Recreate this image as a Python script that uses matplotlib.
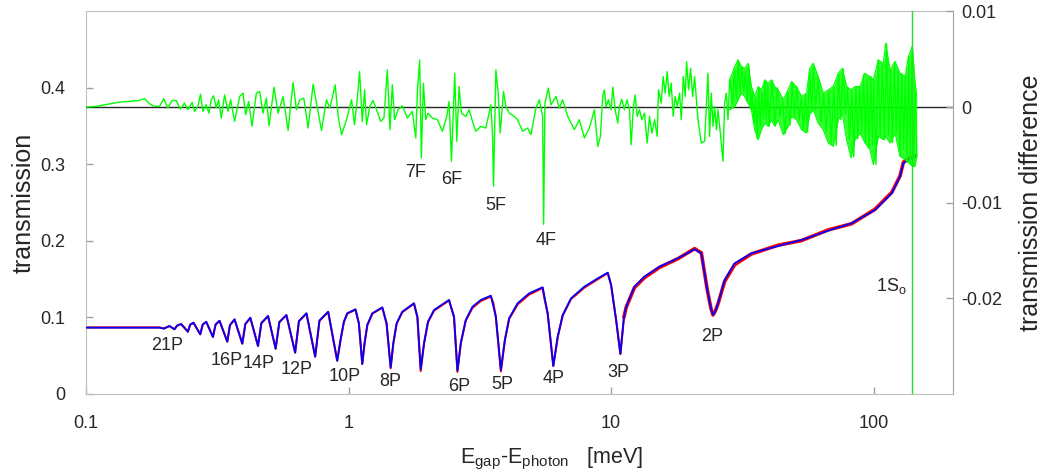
import matplotlib
matplotlib.use('Agg')
import matplotlib.pyplot as plt
from matplotlib.ticker import NullLocator

plt.rcParams['font.family'] = ['Liberation Sans', 'DejaVu Sans']
plt.rcParams['mathtext.default'] = 'regular'

# ---------------- data ----------------
# measured transmission (blue) vs. E_gap - E_photon [meV]
blue_x = [0.100, 0.1905, 0.1980, 0.2079, 0.2173, 0.2225, 0.2305, 0.2444, 0.2495, 0.2568,
          0.2724, 0.2784, 0.2871, 0.3045, 0.3116, 0.3227, 0.3453, 0.3536, 0.3681, 0.3939,
          0.4045, 0.4227, 0.4522, 0.4656, 0.4938, 0.5277, 0.5452, 0.5800, 0.6261, 0.6473,
          0.6915, 0.7463, 0.7750, 0.8366, 0.9055, 0.932, 0.960, 0.989, 1.063, 1.095,
          1.128, 1.151, 1.179, 1.232, 1.345, 1.396, 1.447, 1.481, 1.525, 1.603,
          1.775, 1.829, 1.883, 1.939, 2.008, 2.117, 2.414, 2.522, 2.599, 2.676,
          2.796, 2.965, 3.190, 3.483, 3.640, 3.804, 3.939, 4.091, 4.405, 4.877,
          5.487, 5.734, 6.024, 6.262, 6.542, 7.036, 7.91, 8.90, 9.71, 10.0,
          10.45, 10.85, 11.2, 11.41, 12.27, 13.40, 15.29, 17.97, 20.80, 22.06,
          23.25, 24.0, 24.44, 24.95, 25.55, 27.06, 29.56, 34.22, 43.28, 53.11,
          67.15, 82.41, 101.2, 117.2, 126.0, 129.8, 135.6, 143.8]
blue_y = [0.0867, 0.0867, 0.0854, 0.0889, 0.0846, 0.0895, 0.0915, 0.0814, 0.0908, 0.0932,
          0.0780, 0.0908, 0.0945, 0.0745, 0.0908, 0.0958, 0.0684, 0.0902, 0.0976, 0.0658,
          0.0915, 0.0997, 0.0627, 0.0928, 0.1020, 0.0592, 0.0941, 0.1033, 0.0540, 0.0954,
          0.1055, 0.0488, 0.0961, 0.1076, 0.0435, 0.0706, 0.0945, 0.1055, 0.1107, 0.0924,
          0.0392, 0.0663, 0.0902, 0.1055, 0.1133, 0.0924, 0.0349, 0.0663, 0.0924, 0.1076,
          0.1186, 0.1010, 0.0323, 0.0663, 0.0945, 0.1098, 0.1229, 0.1010, 0.0305, 0.0663,
          0.0967, 0.1141, 0.1229, 0.1285, 0.1010, 0.0314, 0.0706, 0.0990, 0.1186, 0.1316,
          0.1395, 0.1055, 0.0366, 0.0749, 0.1033, 0.1251, 0.1403, 0.1512, 0.1586, 0.1425,
          0.0967, 0.0523, 0.1010, 0.1141, 0.1403, 0.1533, 0.1664, 0.1774, 0.1892, 0.1839,
          0.1359, 0.1120, 0.1033, 0.1080, 0.1186, 0.1490, 0.1708, 0.1839, 0.1935, 0.2013,
          0.2135, 0.2231, 0.2405, 0.2624, 0.2841, 0.3016, 0.3059, 0.3102]

# second transmission trace (red), almost on top of the blue one
red_x = [0.100, 0.1905, 0.1980, 0.2079, 0.2173, 0.2225, 0.2305, 0.2444, 0.2495, 0.2568,
         0.2724, 0.2784, 0.2871, 0.3045, 0.3116, 0.3227, 0.3453, 0.3536, 0.3681, 0.3939,
         0.4045, 0.4227, 0.4522, 0.4656, 0.4938, 0.5277, 0.5452, 0.5800, 0.6261, 0.6473,
         0.6915, 0.7463, 0.7750, 0.8366, 0.9055, 0.932, 0.960, 0.989, 1.063, 1.095,
         1.128, 1.151, 1.179, 1.232, 1.345, 1.396, 1.447, 1.481, 1.525, 1.603,
         1.775, 1.829, 1.883, 1.939, 2.008, 2.117, 2.414, 2.522, 2.599, 2.676,
         2.796, 2.965, 3.190, 3.483, 3.560, 3.640, 3.804, 3.939, 4.091, 4.405, 4.877,
         5.487, 5.560, 5.734, 6.024, 6.262, 6.542, 7.036, 7.91, 8.90, 9.71, 10.0,
         10.45, 10.85, 11.2, 11.41, 12.27, 13.40, 15.29, 17.97, 20.80, 22.06,
         23.25, 24.0, 24.44, 24.95, 25.55, 27.06, 29.56, 34.22, 43.28, 53.11,
         67.15, 82.41, 101.2, 117.2, 126.0, 129.8, 135.6, 143.8]
red_y = [0.0870, 0.0870, 0.0856, 0.0887, 0.0846, 0.0893, 0.0913, 0.0814, 0.0906, 0.0930,
         0.0780, 0.0906, 0.0942, 0.0745, 0.0906, 0.0955, 0.0684, 0.0900, 0.0973, 0.0658,
         0.0913, 0.0993, 0.0627, 0.0925, 0.1016, 0.0592, 0.0938, 0.1029, 0.0540, 0.0950,
         0.1050, 0.0488, 0.0956, 0.1071, 0.0435, 0.0700, 0.0940, 0.1050, 0.1102, 0.0920,
         0.0392, 0.0660, 0.0898, 0.1050, 0.1127, 0.0920, 0.0335, 0.0660, 0.0920, 0.1070,
         0.1180, 0.1005, 0.0300, 0.0660, 0.0940, 0.1090, 0.1222, 0.1005, 0.0290, 0.0660,
         0.0960, 0.1125, 0.1215, 0.1275, 0.1190, 0.1005, 0.0295, 0.0700, 0.0982, 0.1170, 0.1300,
         0.1385, 0.1264, 0.1050, 0.0366, 0.0745, 0.1025, 0.1240, 0.1390, 0.1500, 0.1580, 0.1425,
         0.0967, 0.0523, 0.1010, 0.1130, 0.1390, 0.1520, 0.1655, 0.1768, 0.1900, 0.1845,
         0.1359, 0.1120, 0.1033, 0.1085, 0.1180, 0.1470, 0.1690, 0.1830, 0.1945, 0.2005,
         0.2145, 0.2225, 0.2415, 0.2635, 0.2850, 0.3030, 0.3080, 0.3110]

# transmission difference (green, right axis, in units of 1e-3)
diff_x_a = [0.1000, 0.1092, 0.1340, 0.1598, 0.1670, 0.1745, 0.1823, 0.1905, 0.1979, 0.2050,
            0.2129, 0.2206, 0.2291, 0.2373, 0.2443, 0.2538, 0.2591, 0.2668, 0.2731, 0.2788,
            0.2871, 0.2939, 0.3000, 0.3062, 0.3135, 0.3200, 0.3276, 0.3373, 0.3473, 0.3556,
            0.3683, 0.3849, 0.3963, 0.4057, 0.4165, 0.4289, 0.4456, 0.4588, 0.4724, 0.4864,
            0.4980, 0.5203, 0.5390, 0.5632, 0.5885, 0.6150, 0.6332, 0.6521, 0.6754, 0.7016,
            0.7331, 0.7549, 0.7889, 0.8241, 0.8487, 0.8895, 0.9133, 0.9404, 0.9826, 1.027]
diff_y_a = [0.00, 0.07, 0.52, 0.69, 0.90, 0.35, 0.07, 0.07, 0.87, -0.10,
            0.69, 0.69, -0.21, 0.42, -0.28, 0.49, -0.45, 0.07, 1.35, -0.45,
            0.24, -0.63, 0.76, 1.18, -0.10, 0.76, -1.15, 1.28, -0.45, 0.76,
            -1.49, 1.11, 1.46, -0.80, 0.59, -2.01, 1.46, 1.63, -0.63, 0.94,
            -1.95, 2.08, -0.63, 1.11, -2.44, 2.57, -0.28, 0.76, 0.94, -2.19,
            2.40, 0.42, -2.44, 0.76, -0.10, 2.33, -0.97, -2.89, -1.32, 0.76]
diff_x_b = [1.054, 1.079, 1.102, 1.128, 1.151, 1.171, 1.206, 1.239, 1.286, 1.325,
            1.364, 1.405, 1.438, 1.468, 1.498, 1.543, 1.603, 1.675, 1.750, 1.803,
            1.829, 1.866, 1.894, 1.928, 1.968, 2.008, 2.086, 2.180, 2.278, 2.367,
            2.415, 2.466, 2.538, 2.584, 2.637, 2.692, 2.796, 2.880, 2.965, 3.053,
            3.190, 3.333, 3.483, 3.535, 3.566, 3.640, 3.715, 3.781, 3.893, 3.974,
            4.093, 4.277, 4.404, 4.602, 4.808, 4.951, 5.174, 5.328, 5.486, 5.534,
            5.599, 5.767, 5.902, 6.168, 6.351, 6.540, 6.834, 7.246, 7.571, 7.910,
            8.266, 8.638, 8.895, 9.107]
diff_y_b = [-1.84, 0.76, 3.72, -1.49, 1.81, -1.84, 0.07, 0.69, -0.45, -1.49,
            -1.15, 3.89, -2.36, 2.33, -1.32, -0.28, 0.14, -1.15, -0.45, -3.23,
            1.63, 4.93, -5.31, 2.50, -1.32, -0.63, -1.15, -1.32, -2.53, -0.97,
            0.59, -5.66, 3.54, -3.58, 2.15, -0.63, -0.97, -0.28, -1.49, -2.53,
            -2.01, -2.19, 0.24, -2.88, -8.26, 3.89, 1.46, -2.71, 1.63, 0.07,
            -0.63, -0.97, -1.32, -2.53, -2.19, -2.88, -0.10, 0.76, -0.97, -12.26,
            0.42, 1.98, 0.24, 1.11, -0.10, 0.76, -0.97, -2.36, -1.32, -3.23,
            -2.19, -0.28, -4.10, -3.06]
diff_x_c = [9.294, 9.430, 9.570, 9.768, 10.00, 10.15, 10.36, 10.60, 10.76, 10.98,
            11.24, 11.51, 11.75, 11.92, 12.17, 12.35, 12.57, 12.83, 13.09, 13.40,
            13.72, 14.01, 14.30, 14.64, 14.98, 15.16, 15.52, 15.79, 16.07, 16.36,
            16.64, 16.94, 17.24, 17.54, 17.86, 18.23, 18.50, 18.83, 19.16, 19.39,
            19.73, 20.08, 20.44, 20.80]
diff_y_c = [1.11, 1.81, 0.07, 0.76, -0.28, 2.08, -0.28, -1.67, 0.07, 0.83,
            -0.28, 0.76, -0.28, -3.92, 0.07, 1.28, -0.97, -0.28, -1.32, -0.63,
            -3.75, -0.97, -2.71, -1.32, -3.06, 1.81, 0.42, 3.19, 1.46, 3.71,
            1.11, 2.50, -0.97, 1.11, 0.07, 1.46, -1.32, 3.19, 1.11, 4.75,
            1.81, 4.06, 1.11, 3.19]
diff_x_d = [21.42, 22.06, 22.71, 23.38, 23.72, 24.07, 24.45, 24.80, 25.18, 25.53,
            26.10, 26.68, 27.07, 27.47, 27.88, 28.29]
diff_y_d = [-1.32, -3.75, -3.58, 3.54, -3.06, 1.46, -2.01, 0.07, -2.36, -0.28,
            -2.88, -5.66, 0.42, 1.46, -1.32, 2.85]
# dense noisy part of the difference trace
diff_x_e = [28.5, 29.0, 29.5, 30.0, 30.5, 31.0, 31.5, 32.0, 32.5, 33.0,
            33.5, 34.0, 34.5, 35.0, 35.5, 36.0, 36.5, 37.0, 37.5, 38.0,
            38.5, 39.0, 39.5, 40.0,
            41, 42, 43, 44, 45, 46, 47, 48, 49, 50,
            51, 52, 53, 54, 55, 56, 57, 58, 59, 60,
            61.5, 63, 64.5, 66, 67.5, 69, 70.5, 72, 73.5, 75,
            76.5, 78, 79.5, 81, 82.5, 84, 85.5, 87, 88.5, 90,
            91.5, 93, 94.5, 96, 97.5, 99,
            100, 102, 104, 106, 108, 110, 112, 114, 116, 118,
            120, 122, 124, 126, 128, 130, 132, 134, 136, 138,
            140, 142, 144, 146]
diff_y_e = [2.4, 0.3, 3.9, 0.8, 4.9, 1.5, 4.1, 1.6, 3.8, 0.5,
            4.3, -0.2, 1.9, -1.8, 0.9, -3.3, 2.0, -2.0, 1.6, -1.2,
            2.8, -1.5, 2.4, -2.0,
            2.8, -1.9, 2.0, -1.0, 0.7, -2.8, 1.6, -1.9, 2.6, -1.0,
            2.1, -1.4, 1.0, -2.3, 1.3, -2.6, 3.9, -0.6, 4.5, -0.3,
            3.1, -1.6, 1.4, -2.6, 1.8, -3.7, 2.1, -4.0, 3.5, -1.3,
            4.0, -0.7, 2.1, -3.4, 1.8, -5.2, 2.1, -3.3, 2.1, -2.7,
            3.4, -3.7, 3.0, -4.3, 3.2, -4.0,
            2.8, -6.0, 4.9, -3.0, 4.5, -3.4, 6.6, -3.0, 3.9, -3.7,
            4.7, -2.7, 3.8, -5.1, 3.5, -4.5, 3.2, -5.4, 5.3, -5.8,
            6.3, -6.2, 2.5, -5.1]
# upper / lower envelope of the dense part
band_x = [28.29, 29.56, 30.44, 31.34, 32.28, 33.23, 34.22, 35.24, 36.29, 37.37,
          38.48, 39.62, 40.80, 42.02, 43.27, 45.21, 47.24, 48.64, 50.83, 53.11,
          55.49, 57.15, 58.85, 61.49, 64.25, 67.15, 70.15, 73.31, 75.94, 78.88,
          81.93, 84.87, 88.68, 92.67, 96.83, 99.70, 104.2, 108.9, 111.1, 115.4,
          120.6, 126.0, 131.7, 135.6, 140.5, 143.8, 145.9]
band_hi = [2.85, 4.24, 4.93, 4.24, 4.06, 4.58, 2.15, 1.11, 2.15, 1.81,
           2.85, 2.50, 2.85, 2.15, 1.81, 0.76, 1.81, 2.67, 2.15, 1.11,
           1.46, 4.06, 4.58, 3.19, 1.46, 1.81, 2.15, 3.54, 4.06, 2.15,
           1.81, 2.15, 2.15, 3.54, 3.19, 2.85, 4.93, 4.58, 6.67, 3.89,
           4.76, 3.54, 3.19, 5.28, 6.32, 2.50, 1.11]
band_lo = [-0.28, 0.07, 0.76, 1.46, 1.11, 0.42, -0.28, -2.36, -3.40, -2.36,
           -1.67, -2.01, -1.32, -2.01, -1.32, -2.88, -2.01, -0.97, -1.32, -2.36,
           -2.71, -0.63, -0.28, -1.67, -2.36, -3.75, -4.10, -1.32, -0.63, -3.40,
           -5.31, -3.40, -2.71, -3.75, -4.44, -6.01, -3.06, -3.40, -3.06, -3.75,
           -2.71, -5.14, -5.49, -5.83, -6.18, -6.18, -5.14]
line_1S = 140.0   # position of the 1S_o line [meV]

p_labels = ['21P', '16P', '14P', '12P', '10P', '8P', '6P', '5P', '4P', '3P', '2P']
p_label_x = [0.2032, 0.3443, 0.4547, 0.635, 0.965, 1.447, 2.629, 3.854, 6.033, 10.68, 24.29]
p_label_y = [0.064, 0.044, 0.0396, 0.0314, 0.0235, 0.0157, 0.0098, 0.0118, 0.0203, 0.0275, 0.0752]
f_labels = ['7F', '6F', '5F', '4F']
f_label_x = [1.802, 2.473, 3.640, 5.648]
f_label_y = [0.2889, 0.2810, 0.2458, 0.200]

x_ticks = [0.1, 1, 10, 100]
x_ticklabels = ['0.1', '1', '10', '100']
yl_ticks = [0, 0.1, 0.2, 0.3, 0.4]
yl_ticklabels = ['0', '0.1', '0.2', '0.3', '0.4']
yr_ticks = [-0.02, -0.01, 0, 0.01]
yr_ticklabels = ['-0.02', '-0.01', '0', '0.01']

# ---------------- figure ----------------
TXT = '#262626'
GREEN = '#00ff00'
fig = plt.figure(figsize=(10.42, 4.72), dpi=100)
ax = fig.add_axes([0.0825, 0.1653, 0.8318, 0.8104])
ax2 = ax.twinx()

ax.set_xscale('log')
ax.set_xlim(0.1, 200)
ax.set_ylim(0, 0.5)
ax2.set_ylim(-0.03, 0.01)

# transmission curves
ax.plot(red_x, red_y, color='#ff0000', lw=1.5, zorder=2)
rx_hi = [x for x in red_x if x >= 11]
ry_hi = [y for x, y in zip(red_x, red_y) if x >= 11]
ax.plot(rx_hi, ry_hi, color='#ff0000', lw=2.6, zorder=2)
ax.plot(blue_x, blue_y, color='#0000ff', lw=1.3, zorder=3)

# difference curve
s = 1e-3
gx = diff_x_a + diff_x_b + diff_x_c + diff_x_d + diff_x_e
gy = [v * s for v in diff_y_a + diff_y_b + diff_y_c + diff_y_d + diff_y_e]
ax2.axhline(0, color='#262626', lw=1.0, zorder=1)
ax2.fill_between(band_x, [v * s for v in band_lo], [v * s for v in band_hi],
                 color=GREEN, alpha=0.8, lw=0, zorder=2)
ax2.plot(band_x, [v * s for v in band_hi], color=GREEN, lw=0.8, zorder=3)
ax2.plot(band_x, [v * s for v in band_lo], color=GREEN, lw=0.8, zorder=3)
ax2.plot(gx, gy, color=GREEN, lw=1.0, zorder=3)
ax2.axvline(line_1S, color='#22e022', lw=1.0, zorder=3)

# annotations
for t, x, y in zip(p_labels, p_label_x, p_label_y):
    ax.text(x, y, t, ha='center', va='center', fontsize=13, color=TXT)
for t, x, y in zip(f_labels, f_label_x, f_label_y):
    ax.text(x, y, t, ha='center', va='center', fontsize=13, color=TXT)
ax.text(117.2, 0.1412, '1S$_\\mathregular{o}$', ha='center', va='center', fontsize=13, color=TXT)

# ticks
ax.set_xticks(x_ticks)
ax.set_xticklabels(x_ticklabels)
ax.xaxis.set_minor_locator(NullLocator())
ax.set_yticks(yl_ticks)
ax.set_yticklabels(yl_ticklabels)
ax2.set_yticks(yr_ticks)
ax2.set_yticklabels(yr_ticklabels)
ax.tick_params(axis='x', direction='in', length=5, width=1, color='#a0a0a0',
               labelcolor=TXT, labelsize=13, pad=15)
ax.tick_params(axis='y', direction='in', length=5, width=1, color='#a0a0a0',
               labelcolor=TXT, labelsize=13, pad=15, right=False)
ax2.tick_params(axis='y', direction='in', length=5, width=1, color='#a0a0a0',
                labelcolor=TXT, labelsize=13, pad=6)

for side in ['left', 'top', 'bottom']:
    ax.spines[side].set_color('#c0c0c0')
ax.spines['right'].set_visible(False)
for side in ['left', 'top', 'bottom']:
    ax2.spines[side].set_visible(False)
ax2.spines['right'].set_color('#a0a0a0')

ax.set_xlabel('E$_\\mathregular{gap}$-E$_\\mathregular{photon}$   [meV]', fontsize=15.5, color=TXT)
ax.xaxis.label.set_va('baseline')
ax.xaxis.set_label_coords(0.537, -0.182)
ax.set_ylabel('transmission', fontsize=18, color=TXT)
ax.yaxis.set_label_coords(-0.058, 0.5)
ax2.set_ylabel('transmission difference', fontsize=18, color=TXT)
ax2.yaxis.set_label_coords(1.0765, 0.5)

fig.savefig('out.png', dpi=100)
